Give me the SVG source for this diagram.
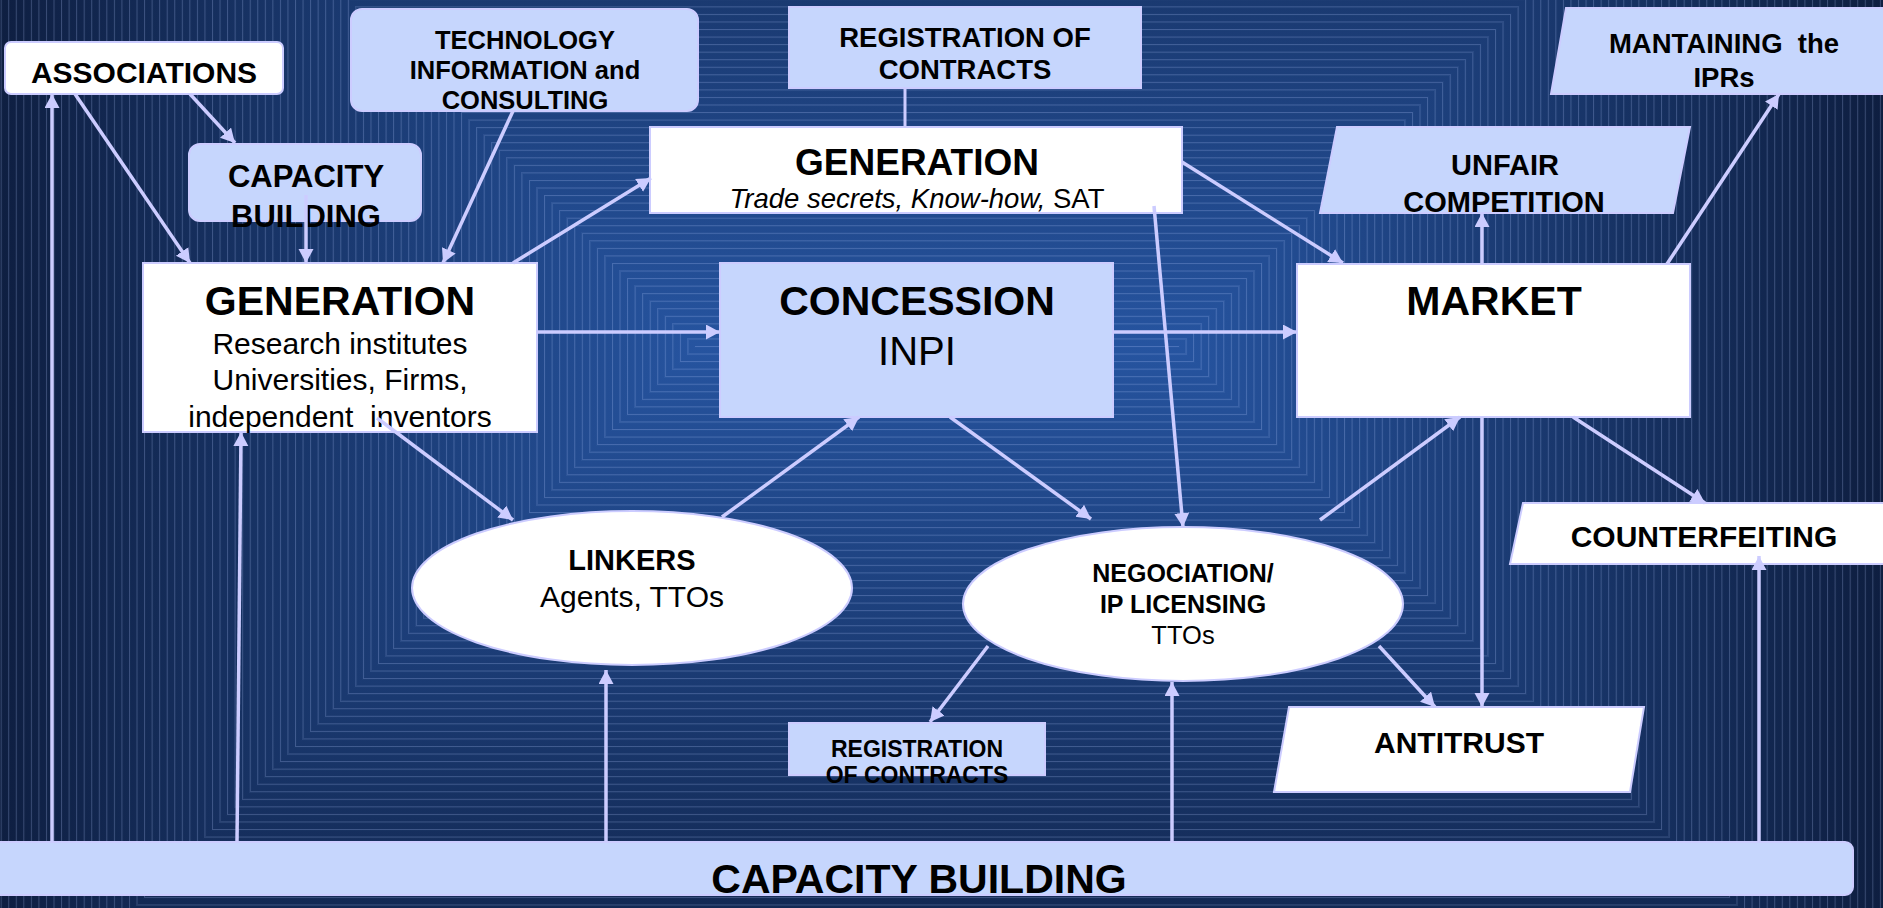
<svg xmlns="http://www.w3.org/2000/svg" width="1883" height="908" viewBox="0 0 1883 908">
<defs>
<style>
.t{font-family:"Liberation Sans",Arial,sans-serif;fill:#000;text-anchor:middle}
.b{font-weight:bold}
.w{fill:#ffffff;stroke:#ccccff;stroke-width:2}
.lb{fill:#c6d6fd;stroke:#ccccff;stroke-width:2}
.c{stroke:#ccccff;stroke-width:3.5;fill:none;marker-end:url(#ah)}
.c0{stroke:#ccccff;stroke-width:3;fill:none}
.bg polygon{shape-rendering:crispEdges}
</style>
<marker id="ah" markerUnits="userSpaceOnUse" markerWidth="16" markerHeight="16" refX="14" refY="7.5" orient="auto">
<path d="M0,0 L14,7.5 L0,15 Z" fill="#ccccff"/>
</marker>
<linearGradient id="gt" gradientUnits="userSpaceOnUse" x1="0" y1="346" x2="0" y2="-359"><stop offset="0" stop-color="#2654a0"/><stop offset="1" stop-color="#0e1e40"/></linearGradient>
<linearGradient id="gb" gradientUnits="userSpaceOnUse" x1="0" y1="346" x2="0" y2="1051"><stop offset="0" stop-color="#2654a0"/><stop offset="1" stop-color="#0e1e40"/></linearGradient>
<linearGradient id="gl" gradientUnits="userSpaceOnUse" x1="695" y1="0" x2="-10" y2="0"><stop offset="0" stop-color="#2654a0"/><stop offset="1" stop-color="#0e1e40"/></linearGradient>
<linearGradient id="gr" gradientUnits="userSpaceOnUse" x1="1178" y1="0" x2="1883" y2="0"><stop offset="0" stop-color="#2654a0"/><stop offset="1" stop-color="#0e1e40"/></linearGradient>
<pattern id="hl" patternUnits="userSpaceOnUse" x="0" y="346" width="20" height="7.547"><rect x="0" y="0" width="20" height="1" fill="#b4c8ff" fill-opacity="0.26"/></pattern>
<pattern id="vl" patternUnits="userSpaceOnUse" x="695" y="0" width="7.547" height="20"><rect x="0" y="0" width="1" height="20" fill="#b4c8ff" fill-opacity="0.26"/></pattern>
</defs>
<g id="background" class="bg">
<rect x="0" y="0" width="1883" height="908" fill="#1a3a74"/>
<polygon points="695,346 1178,346 1524,0 349,0" fill="url(#gt)"/>
<polygon points="695,346 1178,346 1740,908 133,908" fill="url(#gb)"/>
<polygon points="695,346 349,0 0,0 0,908 133,908" fill="url(#gl)"/>
<polygon points="1178,346 1524,0 1883,0 1883,908 1740,908" fill="url(#gr)"/>
<polygon points="695,346 1178,346 1524,0 349,0" fill="url(#hl)"/>
<polygon points="695,346 1178,346 1740,908 133,908" fill="url(#hl)"/>
<polygon points="695,346 349,0 0,0 0,908 133,908" fill="url(#vl)"/>
<polygon points="1178,346 1524,0 1883,0 1883,908 1740,908" fill="url(#vl)"/>
</g>
<g id="n-associations">
<rect class="w" x="5" y="42" width="278" height="52" rx="6"/>
<text class="t b" x="144" y="83" font-size="30">ASSOCIATIONS</text>
</g>
<g id="n-techinfo">
<rect class="lb" x="351" y="9" width="347" height="102" rx="11"/>
<text class="t b" font-size="25.5"><tspan x="525" y="49">TECHNOLOGY</tspan><tspan x="525" y="79">INFORMATION and</tspan><tspan x="525" y="109">CONSULTING</tspan></text>
</g>
<g id="n-capacity-small">
<rect class="lb" x="189" y="144" width="232" height="77" rx="11"/>
<text class="t b" font-size="31"><tspan x="306" y="187">CAPACITY</tspan><tspan x="306" y="227">BUILDING</tspan></text>
</g>
<g id="n-reg-top">
<rect class="lb" x="789" y="7" width="352" height="81"/>
<text class="t b" font-size="27.5"><tspan x="965" y="47">REGISTRATION OF</tspan><tspan x="965" y="79">CONTRACTS</tspan></text>
</g>
<g id="n-generation-top">
<rect class="w" x="650" y="127" width="532" height="86"/>
<text class="t b" x="917" y="175" font-size="37">GENERATION</text>
<text class="t" x="917" y="208" font-size="27.5"><tspan font-style="italic">Trade secrets, Know-how,</tspan> SAT</text>
</g>
<g id="n-generation-main">
<rect class="w" x="143" y="263" width="394" height="169"/>
<text class="t b" x="340" y="315" font-size="41">GENERATION</text>
<text class="t" font-size="30" xml:space="preserve"><tspan x="340" y="354">Research institutes</tspan><tspan x="340" y="390">Universities, Firms,</tspan><tspan x="340" y="427">independent  inventors</tspan></text>
</g>
<g id="n-concession">
<rect class="lb" x="720" y="263" width="393" height="154"/>
<text class="t b" x="917" y="315" font-size="41">CONCESSION</text>
<text class="t" x="917" y="365" font-size="40">INPI</text>
</g>
<g id="n-market">
<rect class="w" x="1297" y="264" width="393" height="153"/>
<text class="t b" x="1494" y="315" font-size="41">MARKET</text>
</g>
<g id="n-unfair">
<polygon class="lb" points="1337,127 1690,127 1673,213 1320,213"/>
<text class="t b" font-size="29"><tspan x="1505" y="175">UNFAIR</tspan><tspan x="1504" y="212">COMPETITION</tspan></text>
</g>
<g id="n-maintaining">
<polygon class="lb" points="1566,8 1905,8 1890,94 1551,94"/>
<text class="t b" font-size="27.5" xml:space="preserve"><tspan x="1724" y="53">MANTAINING  the</tspan><tspan x="1724" y="87">IPRs</tspan></text>
</g>
<g id="n-linkers">
<ellipse class="w" cx="632" cy="588" rx="220" ry="77"/>
<text class="t b" x="632" y="570" font-size="29">LINKERS</text>
<text class="t" x="632" y="607" font-size="30">Agents, TTOs</text>
</g>
<g id="n-negociation">
<ellipse class="w" cx="1183" cy="604" rx="220" ry="77"/>
<text class="t b" font-size="25"><tspan x="1183" y="582">NEGOCIATION/</tspan><tspan x="1183" y="613">IP LICENSING</tspan></text>
<text class="t" x="1183" y="644" font-size="25.5">TTOs</text>
</g>
<g id="n-reg-bottom">
<rect class="lb" x="789" y="723" width="256" height="52"/>
<text class="t b" font-size="23"><tspan x="917" y="757">REGISTRATION</tspan><tspan x="917" y="783">OF CONTRACTS</tspan></text>
</g>
<g id="n-antitrust">
<polygon class="w" points="1289,707 1644,707 1630,792 1274,792"/>
<text class="t b" x="1459" y="753" font-size="30">ANTITRUST</text>
</g>
<g id="n-counterfeiting">
<polygon class="w" points="1523,503 1905,503 1895,564 1510,564"/>
<text class="t b" x="1704" y="547" font-size="30">COUNTERFEITING</text>
</g>
<g id="connectors">
<line class="c" x1="190" y1="94" x2="235" y2="143"/>
<line class="c" x1="75" y1="94" x2="190" y2="263"/>
<line class="c" x1="306" y1="195" x2="306" y2="263"/>
<line class="c" x1="513" y1="111" x2="443" y2="263"/>
<line class="c" x1="513" y1="263" x2="651" y2="178"/>
<line class="c" x1="537" y1="332" x2="720" y2="332"/>
<line class="c" x1="377" y1="418" x2="513" y2="520"/>
<line class="c" x1="722" y1="517" x2="859" y2="417"/>
<line class="c" x1="950" y1="417" x2="1091" y2="519"/>
<line class="c" x1="1113" y1="332" x2="1297" y2="332"/>
<line class="c" x1="1154" y1="206" x2="1183" y2="527"/>
<line class="c" x1="1182" y1="162" x2="1343" y2="263"/>
<line class="c0" x1="905" y1="88" x2="905" y2="127"/>
<line class="c" x1="1320" y1="520" x2="1460" y2="417"/>
<line class="c" x1="1482" y1="264" x2="1482" y2="213"/>
<line class="c" x1="1667" y1="264" x2="1779" y2="94"/>
<line class="c" x1="1482" y1="417" x2="1482" y2="707"/>
<line class="c" x1="1379" y1="646" x2="1435" y2="707"/>
<line class="c" x1="1573" y1="417" x2="1705" y2="503"/>
<line class="c" x1="988" y1="646" x2="930" y2="722"/>
<line class="c" x1="52" y1="842" x2="52" y2="94"/>
<line class="c" x1="237" y1="842" x2="241" y2="432"/>
<line class="c" x1="606" y1="842" x2="606" y2="670"/>
<line class="c" x1="1172" y1="842" x2="1172" y2="682"/>
<line class="c" x1="1759" y1="842" x2="1759" y2="556"/>
</g>
<g id="n-capacity-bar">
<rect class="lb" x="-10" y="842" width="1863" height="53" rx="8"/>
<text class="t b" x="919" y="893" font-size="41">CAPACITY BUILDING</text>
</g>
</svg>
